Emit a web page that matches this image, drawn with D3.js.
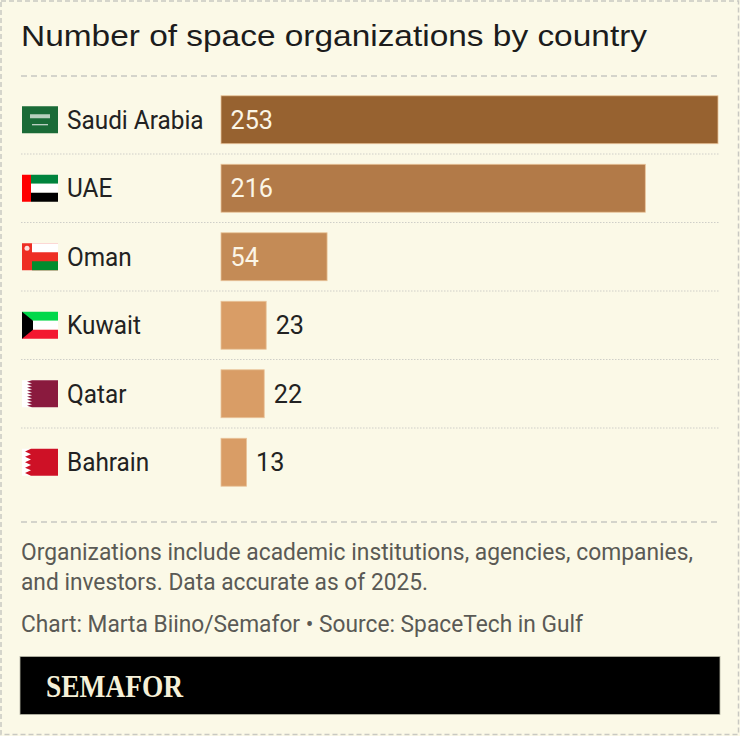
<!DOCTYPE html>
<html>
<head>
<meta charset="utf-8">
<script src="https://cdn.jsdelivr.net/npm/d3@7"></script>
<style>
  html, body { margin: 0; padding: 0; background: #fbf9e7; }
  svg { display: block; }
</style>
</head>
<body>
<svg id="chart" width="740" height="736"></svg>
<script>
// ---- Data ----
const countries = ["Saudi Arabia", "UAE", "Oman", "Kuwait", "Qatar", "Bahrain"];
const values = [253, 216, 54, 23, 22, 13];
const flagCodes = ["sa", "ae", "om", "kw", "qa", "bh"];
const titleText = "Number of space organizations by country";
const noteLines = ["Organizations include academic institutions, agencies, companies,",
                   "and investors. Data accurate as of 2025."];
const creditText = "Chart: Marta Biino/Semafor \u2022 Source: SpaceTech in Gulf";
const brandText = "SEMAFOR";

// ---- Styles ----
const barColors = ["#976230", "#b27a48", "#c48b56", "#d99d66", "#d99d66", "#d99d66"];
const labelFont = "Roboto, 'Noto Sans', sans-serif";

const svg = d3.select("#chart");
const W = 740, H = 736;

function condense(sel, f) {
  sel.each(function () {
    const L = this.getComputedTextLength();
    d3.select(this).attr("textLength", L * f).attr("lengthAdjust", "spacingAndGlyphs");
  });
}

svg.append("rect").attr("x", 0).attr("y", 0).attr("width", W).attr("height", H).attr("fill", "#fbf9e7");
svg.append("rect").attr("x", 1).attr("y", 1).attr("width", W - 2.5).attr("height", H - 2.5)
  .attr("fill", "none").attr("stroke", "#c9c9c2").attr("stroke-width", 1.5).attr("stroke-dasharray", "5,3");

// Title
svg.append("text").attr("x", 21).attr("y", 46)
  .attr("font-family", "'Liberation Sans', Arial, sans-serif").attr("font-size", 29.5)
  .attr("fill", "#1c1c1c").attr("textLength", 626).attr("lengthAdjust", "spacingAndGlyphs")
  .text(titleText);

svg.append("line").attr("x1", 21).attr("x2", 720).attr("y1", 76).attr("y2", 76)
  .attr("stroke", "#c8c8c2").attr("stroke-width", 1.5).attr("stroke-dasharray", "6,4");

// Scales
const x = d3.scaleLinear().domain([0, 253]).range([221, 718]);
const y = d3.scaleBand().domain(countries).range([85.5, 496.5]).paddingInner(0.3).paddingOuter(0.15);
const step = y.step();

const rows = svg.append("g").selectAll("g").data(countries).join("g")
  .attr("transform", d => `translate(0,${y(d)})`);

// separators
svg.append("g").selectAll("line").data(countries.slice(1)).join("line")
  .attr("x1", 21).attr("x2", 720)
  .attr("y1", d => y(d) - (step - y.bandwidth()) / 2)
  .attr("y2", d => y(d) - (step - y.bandwidth()) / 2)
  .attr("stroke", "#cfcfc8").attr("stroke-width", 1).attr("stroke-dasharray", "1.5,1.5");

const bh = y.bandwidth();
rows.append("rect")
  .attr("x", x(0)).attr("y", 0)
  .attr("width", (d, i) => x(values[i]) - x(0)).attr("height", bh)
  .attr("fill", (d, i) => barColors[i])
  .attr("stroke", "#e9c49a").attr("stroke-width", 0.8);

rows.append("text")
  .attr("x", (d, i) => values[i] > 40 ? x(0) + 9.5 : x(values[i]) + 9.5)
  .attr("y", bh / 2 + 9)
  .attr("font-family", labelFont).attr("font-size", 26)
  .attr("fill", (d, i) => values[i] > 40 ? "#fbf5e6" : "#222")
  .text((d, i) => values[i])
  .call(condense, 0.97);

rows.append("text")
  .attr("x", 67).attr("y", bh / 2 + 9)
  .attr("font-family", labelFont).attr("font-size", 25.5)
  .attr("fill", "#222")
  .text(d => d)
  .call(condense, 0.955);

// Flags
const fw = 36, fh = 27;
rows.each(function (d, i) {
  const g = d3.select(this).append("g").attr("transform", `translate(22,${bh / 2 - fh / 2})`);
  const code = flagCodes[i];
  if (code === "sa") {
    g.append("rect").attr("width", fw).attr("height", fh).attr("fill", "#1a6b37");
    g.append("rect").attr("x", 8).attr("y", 8).attr("width", 20).attr("height", 4).attr("fill", "#dfe9df").attr("opacity", 0.8);
    g.append("rect").attr("x", 10).attr("y", 18).attr("width", 16).attr("height", 1).attr("fill", "#f0f0f0");
  } else if (code === "ae") {
    g.append("rect").attr("x", 9).attr("width", fw - 9).attr("height", fh / 3).attr("fill", "#00843d");
    g.append("rect").attr("x", 9).attr("y", fh / 3).attr("width", fw - 9).attr("height", fh / 3).attr("fill", "#ffffff");
    g.append("rect").attr("x", 9).attr("y", 2 * fh / 3).attr("width", fw - 9).attr("height", fh / 3).attr("fill", "#000000");
    g.append("rect").attr("width", 9).attr("height", fh).attr("fill", "#ff0000");
  } else if (code === "om") {
    g.append("rect").attr("width", fw).attr("height", fh).attr("fill", "#ee2e24");
    g.append("rect").attr("x", 10).attr("width", fw - 10).attr("height", fh / 3).attr("fill", "#ffffff");
    g.append("rect").attr("x", 10).attr("y", 2 * fh / 3).attr("width", fw - 10).attr("height", fh / 3).attr("fill", "#008c2e");
    g.append("circle").attr("cx", 5).attr("cy", 5).attr("r", 2.5).attr("fill", "#ffffff").attr("opacity", 0.85);
  } else if (code === "kw") {
    g.append("rect").attr("width", fw).attr("height", fh / 3).attr("fill", "#00d84a");
    g.append("rect").attr("y", fh / 3).attr("width", fw).attr("height", fh / 3).attr("fill", "#ffffff");
    g.append("rect").attr("y", 2 * fh / 3).attr("width", fw).attr("height", fh / 3).attr("fill", "#f31830");
    g.append("path").attr("d", `M0,0 L11,${fh / 3} L11,${2 * fh / 3} L0,${fh} Z`).attr("fill", "#000000");
  } else if (code === "qa" || code === "bh") {
    const col = code === "qa" ? "#8a1a3e" : "#ce1126";
    const n = code === "qa" ? 9 : 5;
    g.append("rect").attr("width", fw).attr("height", fh).attr("fill", "#ffffff");
    const base = code === "qa" ? 10 : 9, tip = code === "qa" ? 5 : 3;
    let p = `M${fw},0 L${base},0`;
    for (let k = 0; k < n; k++) {
      const y0 = k * fh / n;
      p += ` L${tip},${y0 + fh / n / 2} L${base},${y0 + fh / n}`;
    }
    p += ` L${fw},${fh} Z`;
    g.append("path").attr("d", p).attr("fill", col);
  }
});

// Bottom
svg.append("line").attr("x1", 21).attr("x2", 720).attr("y1", 522).attr("y2", 522)
  .attr("stroke", "#c8c8c2").attr("stroke-width", 1.5).attr("stroke-dasharray", "6,4");

const noteFont = "Roboto, 'Noto Sans', sans-serif";
const noteLens = [672, 407];
svg.append("g").selectAll("text").data(noteLines).join("text")
  .attr("x", 21).attr("y", (d, i) => 560 + i * 30)
  .attr("font-family", noteFont).attr("font-size", 23).attr("fill", "#5a5a55")
  .attr("textLength", (d, i) => noteLens[i]).attr("lengthAdjust", "spacingAndGlyphs")
  .text(d => d);

svg.append("text").attr("x", 21).attr("y", 632)
  .attr("font-family", noteFont).attr("font-size", 23).attr("fill", "#5a5a55")
  .attr("textLength", 562).attr("lengthAdjust", "spacingAndGlyphs")
  .text(creditText);

svg.append("rect").attr("x", 20).attr("y", 656.5).attr("width", 700).attr("height", 58)
  .attr("fill", "#000000").attr("stroke", "#b8b8a8").attr("stroke-width", 0.8);
svg.append("text").attr("x", 46).attr("y", 696.5)
  .attr("font-family", "'Liberation Serif', 'DejaVu Serif', serif").attr("font-weight", "bold")
  .attr("font-size", 32).attr("fill", "#f5f0d8")
  .attr("textLength", 137).attr("lengthAdjust", "spacingAndGlyphs")
  .text(brandText);
</script>
</body>
</html>
